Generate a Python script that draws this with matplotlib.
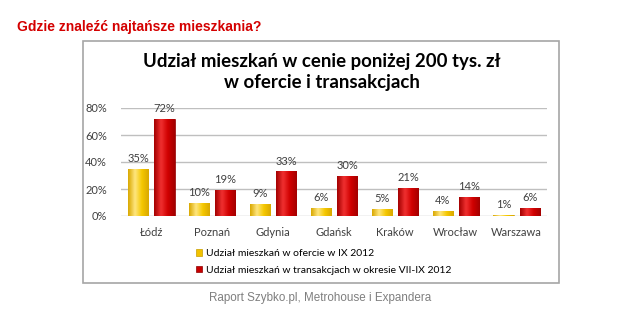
import numpy as np
import matplotlib
matplotlib.use("Agg")
import matplotlib.pyplot as plt
from matplotlib.patches import Rectangle
from matplotlib.colors import LinearSegmentedColormap

# data
cities = ["Łódź", "Poznań", "Gdynia", "Gdańsk", "Kraków", "Wrocław", "Warszawa"]
offer_share = [35, 10, 9, 6, 5, 4, 1]
deal_share = [72, 19, 33, 30, 21, 14, 6]
series_names = ["Udział mieszkań w ofercie w IX 2012",
                "Udział mieszkań w transakcjach w okresie VII-IX 2012"]
yticks = [0, 20, 40, 60, 80]

W, H = 619, 330
chart_font = ["Lato", "DejaVu Sans"]
plain_font = ["Liberation Sans", "DejaVu Sans"]

yellow = "#F2C200"
red = "#C80000"
grid_col = "#BFBFBF"


def shade_bars(ax, bars, base):
    """Give each bar a horizontal gradient so it looks a bit rounded."""
    cmap = LinearSegmentedColormap.from_list(
        "b", [base[0], base[1], base[2], base[0]])
    grad = np.linspace(0, 1, 64).reshape(1, -1)
    for b in bars:
        x0, y0 = b.get_x(), b.get_y()
        x1, y1 = x0 + b.get_width(), y0 + b.get_height()
        im = ax.imshow(grad, cmap=cmap, aspect="auto", extent=[x0, x1, y0, y1],
                       zorder=b.get_zorder() + 0.1, interpolation="bicubic")
        im.set_clip_path(b)


fig = plt.figure(figsize=(W / 100, H / 100), dpi=100)
fig.patch.set_facecolor("white")

# outer frame of the embedded chart
fig.patches.append(Rectangle((83 / W, 1 - 283 / H), (559 - 83) / W, (283 - 41) / H,
                             transform=fig.transFigure, fill=False,
                             edgecolor="#A6A6A6", linewidth=1.2))

fig.text(17 / W, 1 - 27 / H, "Gdzie znaleźć najtańsze mieszkania?", color="#D40000",
         fontsize=10, fontweight="bold", family=plain_font, va="center", ha="left")
fig.text(322 / W, 1 - 72 / H, "Udział mieszkań w cenie poniżej 200 tys. zł\nw ofercie i transakcjach",
         fontsize=13.4, fontweight="bold", family=chart_font, ha="center", va="center",
         linespacing=1.3)
fig.text(320 / W, 1 - 298 / H, "Raport Szybko.pl, Metrohouse i Expandera", color="#7F7F7F",
         fontsize=8.4, family=plain_font, ha="center", va="center")

ax = fig.add_axes([121 / W, 1 - 216 / H, 426 / W, 108 / H])
x = np.arange(len(cities))
bw = 0.33
off = 0.215
b1 = ax.bar(x - off, offer_share, bw, color=yellow, edgecolor="#C89E00", linewidth=0.5, zorder=3)
b2 = ax.bar(x + off, deal_share, bw, color=red, edgecolor="#8E0000", linewidth=0.5, zorder=3)
shade_bars(ax, b1, ["#D9A800", "#FFE680", "#F5C800"])
shade_bars(ax, b2, ["#A30000", "#F03030", "#D00000"])

for bars, vals in ((b1, offer_share), (b2, deal_share)):
    for b, v in zip(bars, vals):
        ax.annotate(f"{v}%", (b.get_x() + b.get_width() / 2, v), xytext=(0, 7.5),
                    textcoords="offset points", ha="center", va="center",
                    fontsize=8, family=chart_font, color="#404040", zorder=5)

ax.set_xlim(-0.5, len(cities) - 0.5)
ax.set_ylim(0, 80)
ax.set_yticks(yticks)
ax.set_yticklabels([f"{t}%" for t in yticks], family=chart_font, fontsize=8, color="#404040")
ax.set_xticks(x)
ax.set_xticklabels(cities, family=chart_font, fontsize=8, color="#404040")
ax.tick_params(length=0, pad=8)
ax.tick_params(axis="y", pad=10)
ax.grid(axis="y", color=grid_col, linewidth=1, zorder=0)
for s in ax.spines.values():
    s.set_visible(False)

h1 = Rectangle((0, 0), 1, 1, facecolor=yellow, edgecolor="#C89E00", linewidth=0.5)
h2 = Rectangle((0, 0), 1, 1, facecolor=red, edgecolor="#8E0000", linewidth=0.5)
fig.legend([h1, h2], series_names, loc="upper left", bbox_to_anchor=(196 / W, 1 - 249 / H),
           frameon=False, prop={"family": chart_font, "size": 7.5}, handlelength=0.6,
           handleheight=0.6, handletextpad=0.35, labelspacing=0.75, borderaxespad=0,
           borderpad=0)

fig.savefig("out.png", dpi=100)
